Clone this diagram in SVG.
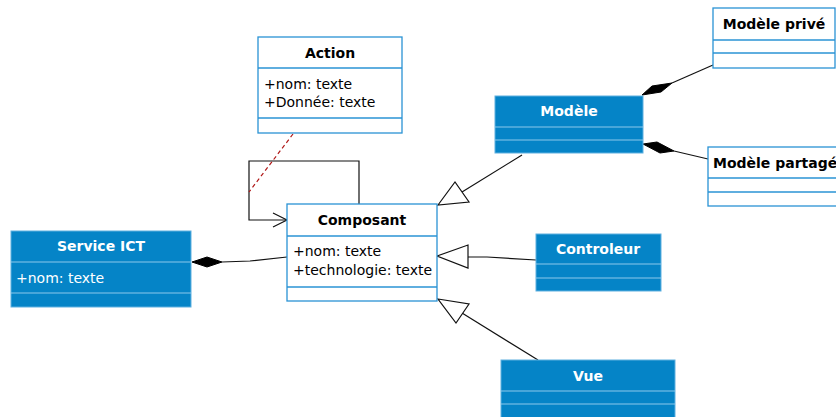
<svg xmlns="http://www.w3.org/2000/svg" width="836" height="417" viewBox="0 0 836 417">
<defs>
<style>
.w{fill:#ffffff;stroke:#2a93d5;stroke-width:1.3}
.wl{stroke:#2a93d5;stroke-width:1.3}
.b{fill:#0584c7;stroke:#5fb0e0;stroke-width:1}
.bl{stroke:#8cc8ec;stroke-width:1.2}
.h{font-family:"DejaVu Sans",Verdana,sans-serif;font-size:14px;font-weight:bold;text-anchor:middle}
.a{font-family:"DejaVu Sans",Verdana,sans-serif;font-size:14px}
.dk{fill:#000000}
.wt{fill:#ffffff}
.ln{stroke:#111111;stroke-width:1.2;fill:none}
.tri{stroke:#111111;stroke-width:1.2;fill:#ffffff}
.dia{fill:#000000;stroke:#000000;stroke-width:1}
</style>
</defs>
<rect width="836" height="417" fill="#ffffff"/>
<g id="connectors">
<path class="ln" d="M359,204 V161 H249 V220 H287"/>
<path class="ln" d="M273,213 L287,220 L273,227"/>
<line x1="293" y1="134" x2="249" y2="192" stroke="#b01818" stroke-width="1.2" stroke-dasharray="4,3"/>
<path class="ln" d="M222,262 L250,261 L287,257"/>
<polygon class="dia" points="192,262 207,257 222,262 207,267"/>
<line class="ln" x1="462" y1="192" x2="522" y2="155"/>
<polygon class="tri" points="438,205 455,182 469,202"/>
<path class="ln" d="M468,257 L487,257 L536,260"/>
<polygon class="tri" points="437,256 468,245 468,268"/>
<line class="ln" x1="462" y1="313" x2="538" y2="360"/>
<polygon class="tri" points="438,299 469,304 456,323"/>
<line class="ln" x1="672" y1="83" x2="713" y2="65"/>
<polygon class="dia" points="642,95 652,86 672,83 661,92"/>
<line class="ln" x1="674" y1="151" x2="708" y2="159"/>
<polygon class="dia" points="643,144 657,142 674,151 660,153"/>
</g>
<g id="action">
<rect class="w" x="258" y="37" width="144" height="96"/>
<line class="wl" x1="258" y1="68" x2="402" y2="68"/>
<line class="wl" x1="258" y1="118" x2="402" y2="118"/>
<text class="h dk" x="330" y="58">Action</text>
<text class="a dk" x="264" y="89">+nom: texte</text>
<text class="a dk" x="264" y="107">+Donnée: texte</text>
</g>
<g id="composant">
<rect class="w" x="287" y="204" width="150" height="97"/>
<line class="wl" x1="287" y1="236" x2="437" y2="236"/>
<line class="wl" x1="287" y1="287" x2="437" y2="287"/>
<text class="h dk" x="362" y="225">Composant</text>
<text class="a dk" x="293" y="256">+nom: texte</text>
<text class="a dk" x="293" y="275">+technologie: texte</text>
</g>
<g id="service-ict">
<rect class="b" x="11" y="231" width="180" height="76"/>
<line class="bl" x1="11" y1="262" x2="191" y2="262"/>
<line class="bl" x1="11" y1="293" x2="191" y2="293"/>
<text class="h wt" x="101" y="251">Service ICT</text>
<text class="a wt" x="16" y="283">+nom: texte</text>
</g>
<g id="modele">
<rect class="b" x="495" y="96" width="148" height="57"/>
<line class="bl" x1="495" y1="127" x2="643" y2="127"/>
<line class="bl" x1="495" y1="140" x2="643" y2="140"/>
<text class="h wt" x="569" y="116">Modèle</text>
</g>
<g id="modele-prive">
<rect class="w" x="713" y="8" width="122" height="60"/>
<line class="wl" x1="713" y1="40" x2="835" y2="40"/>
<line class="wl" x1="713" y1="53" x2="835" y2="53"/>
<text class="h dk" x="774" y="29">Modèle privé</text>
</g>
<g id="modele-partage">
<rect class="w" x="708" y="147" width="160" height="59"/>
<line class="wl" x1="708" y1="178" x2="868" y2="178"/>
<line class="wl" x1="708" y1="192" x2="868" y2="192"/>
<text class="h dk" x="713" y="168" style="text-anchor:start">Modèle partagé</text>
</g>
<g id="controleur">
<rect class="b" x="536" y="234" width="125" height="57"/>
<line class="bl" x1="536" y1="264" x2="661" y2="264"/>
<line class="bl" x1="536" y1="278" x2="661" y2="278"/>
<text class="h wt" x="598" y="254">Controleur</text>
</g>
<g id="vue">
<rect class="b" x="501" y="360" width="174" height="70"/>
<line class="bl" x1="501" y1="391" x2="675" y2="391"/>
<line class="bl" x1="501" y1="404" x2="675" y2="404"/>
<text class="h wt" x="588" y="381">Vue</text>
</g>
</svg>
